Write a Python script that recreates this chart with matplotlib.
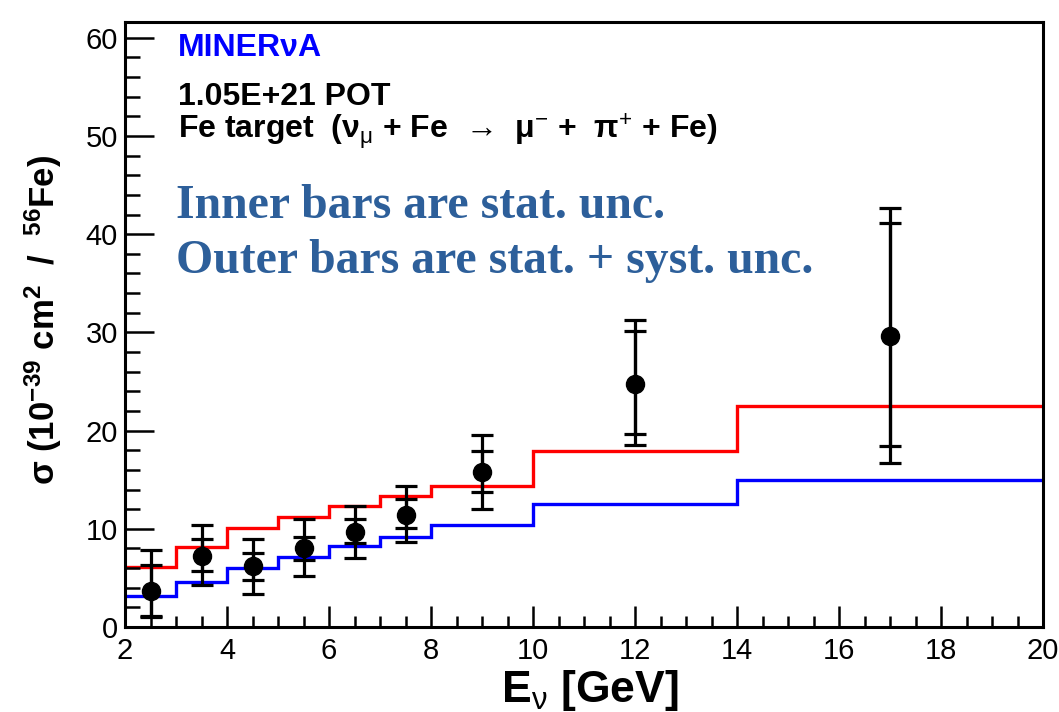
import numpy as np
import matplotlib
matplotlib.use("Agg")
import matplotlib.pyplot as plt
from matplotlib.ticker import MultipleLocator

# ---- data ----
bin_edges = [2, 3, 4, 5, 6, 7, 8, 10, 14, 20]
red_model = [6.1, 8.1, 10.05, 11.2, 12.35, 13.3, 14.4, 17.95, 22.5]
blue_model = [3.2, 4.6, 6.0, 7.15, 8.25, 9.15, 10.35, 12.5, 15.0]

e_nu = [2.5, 3.5, 4.5, 5.5, 6.5, 7.5, 9.0, 12.0, 17.0]
xsec = [3.7, 7.2, 6.25, 8.0, 9.65, 11.45, 15.75, 24.75, 29.6]
stat_hi = [6.3, 8.95, 7.5, 9.15, 10.95, 13.0, 17.9, 30.1, 41.1]
stat_lo = [1.15, 5.75, 4.8, 6.8, 8.6, 10.05, 13.7, 19.7, 18.4]
tot_hi = [7.85, 10.4, 9.0, 10.95, 12.3, 14.35, 19.6, 31.3, 42.7]
tot_lo = [1.05, 4.3, 3.4, 5.2, 7.0, 8.65, 12.0, 18.5, 16.7]

SANS = ["Liberation Sans", "DejaVu Sans"]
SERIF = ["Liberation Serif", "DejaVu Serif"]
plt.rcParams["font.family"] = SANS
plt.rcParams["mathtext.fontset"] = "custom"
plt.rcParams["mathtext.rm"] = "Liberation Sans"
plt.rcParams["mathtext.it"] = "Liberation Sans"
plt.rcParams["mathtext.bf"] = "Liberation Sans:bold"

W, H = 1059, 712
fig = plt.figure(figsize=(W/100, H/100), dpi=100)
ax = fig.add_axes([125/W, 1-627/H, (1043-125)/W, (627-22)/H])

# models as step histograms
ax.stairs(red_model, bin_edges, color="#ff0000", lw=2.4, baseline=None)
ax.stairs(blue_model, bin_edges, color="#0000ff", lw=2.4, baseline=None)

x = np.array(e_nu)
y = np.array(xsec)
tot_err = [y - np.array(tot_lo), np.array(tot_hi) - y]
stat_err = [y - np.array(stat_lo), np.array(stat_hi) - y]
ax.errorbar(x, y, yerr=tot_err, fmt="none", ecolor="black", elinewidth=2.3,
            capsize=8, capthick=2.3, zorder=4)
ax.errorbar(x, y, yerr=stat_err, fmt="o", color="black", ms=13,
            elinewidth=2.3, capsize=8, capthick=2.3, zorder=5)

ax.set_xlim(2, 20)
ax.set_ylim(0, 61.6)
ax.xaxis.set_major_locator(MultipleLocator(2))
ax.xaxis.set_minor_locator(MultipleLocator(0.5))
ax.yaxis.set_major_locator(MultipleLocator(10))
ax.yaxis.set_minor_locator(MultipleLocator(2))
ax.tick_params(axis="both", which="both", direction="in", width=1.8,
               labelsize=21, colors="black")
ax.tick_params(axis="y", which="major", length=21, pad=5)
ax.tick_params(axis="y", which="minor", length=11)
ax.tick_params(axis="x", which="major", length=15, pad=7)
ax.tick_params(axis="x", which="minor", length=8)
for s in ax.spines.values():
    s.set_linewidth(2.2)

xl = ax.set_xlabel(r"E$_{\nu}$ [GeV]", fontsize=32, fontweight="bold")
xl.set_va("baseline")
ax.xaxis.set_label_coords(0.506, -(702-627)/605)
yl = ax.set_ylabel(r"σ (10$^{\mathbf{-39}}$ cm$^{\mathbf{2}}$  /  $^{\mathbf{56}}$Fe)",
                   fontsize=25, fontweight="bold")
ax.yaxis.set_label_coords(-(125-64)/918, 0.507)

fs_top = 23
fig.text(178/W, 1-48/H, "MINERνA", color="#0000ff", fontsize=fs_top,
         fontweight="bold", va="center", ha="left")
fig.text(178/W, 1-97/H, "1.05E+21 POT", color="black", fontsize=fs_top,
         fontweight="bold", va="center", ha="left")
fig.text(178/W, 1-131/H,
         "Fe target  (ν$_{\\mu}$ + Fe  →  μ$^{-}$ +  π$^{+}$ + Fe)",
         color="black", fontsize=fs_top, fontweight="bold",
         va="center", ha="left")

blue_txt = "#2d5f9a"
fig.text(176/W, 1-218/H, "Inner bars are stat. unc.", color=blue_txt,
         fontsize=34.4, fontweight="bold", family=SERIF,
         va="baseline", ha="left")
fig.text(176/W, 1-273/H, "Outer bars are stat. + syst. unc.", color=blue_txt,
         fontsize=34.4, fontweight="bold", family=SERIF,
         va="baseline", ha="left")

fig.savefig("out.png", dpi=100)
